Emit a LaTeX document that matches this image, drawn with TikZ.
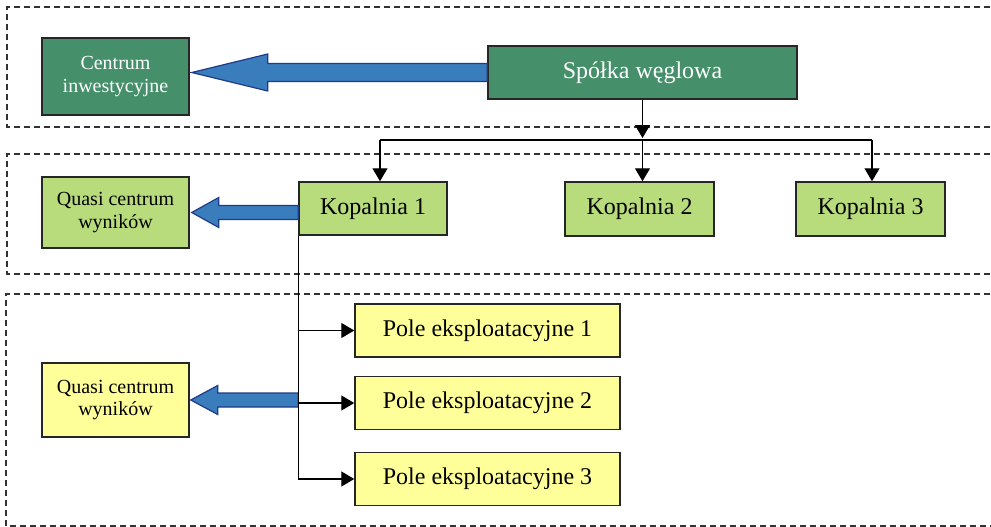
\documentclass[tikz,border=0pt]{standalone}
\usepackage{fontspec}
\setmainfont{Liberation Serif}
\usetikzlibrary{arrows.meta,calc}

\definecolor{darkgreen}{RGB}{69,143,106}
\definecolor{lightgreen}{RGB}{184,220,124}
\definecolor{paleyellow}{RGB}{255,255,153}
\definecolor{arrowblue}{RGB}{58,125,189}
\definecolor{arrowedge}{RGB}{31,58,136}
\definecolor{framegray}{RGB}{50,50,50}

\tikzset{
  box/.style={draw=black!85, line width=1.5pt, inner sep=0pt, align=center,
              font=\fontsize{24}{26}\selectfont},
  topbox/.style={box, fill=darkgreen, text=white},
  minebox/.style={box, fill=lightgreen},
  fieldbox/.style={box, fill=paleyellow},
  smalltext/.style={font=\fontsize{20}{22.5}\selectfont},
  frame/.style={draw=framegray, line width=1.2pt, dash pattern=on 6pt off 4pt},
  link/.style={line width=1.4pt, -{Triangle[length=13pt,width=15pt]}},
  plainlink/.style={line width=1.4pt},
  fatarrow/.style={fill=arrowblue, draw=arrowedge, line width=1.2pt, line join=miter},
}

\begin{document}
\begin{tikzpicture}[x=1pt,y=1pt]
  \clip (0,0) rectangle (991,-527);
  \fill[white] (0,0) rectangle (991,-527);

  % level frames, open to the right
  \draw[frame] (1000,-7) -- (7,-7) -- (7,-127) -- (1000,-127);
  \draw[frame] (1000,-154) -- (7,-154) -- (7,-274) -- (1000,-274);
  \draw[frame] (1000,-294) -- (6,-294) -- (6,-526) -- (1000,-526);

  % company level
  \node[topbox, smalltext, minimum width=147pt, minimum height=77pt] (centrum) at (115.5,-76.5) {Centrum\\inwestycyjne};
  \node[topbox, minimum width=309pt, minimum height=53pt] (spolka) at (642.5,-72.5) {Spółka węglowa};

  % mine level
  \node[minebox, smalltext, minimum width=147pt, minimum height=71pt] (quasiA) at (115.5,-212.5) {Quasi centrum\\wyników};
  \node[minebox, minimum width=148pt, minimum height=53pt] (kop1) at (373,-208.5) {Kopalnia 1};
  \node[minebox, minimum width=149pt, minimum height=54pt] (kop2) at (639.5,-209) {Kopalnia 2};
  \node[minebox, minimum width=149pt, minimum height=54pt] (kop3) at (870.5,-209) {Kopalnia 3};

  % field level
  \node[fieldbox, smalltext, minimum width=147pt, minimum height=74pt] (quasiB) at (115.5,-400) {Quasi centrum\\wyników};
  \node[fieldbox, minimum width=265pt, minimum height=53pt] (pole1) at (487.5,-330.5) {Pole eksploatacyjne 1};
  \node[fieldbox, minimum width=265pt, minimum height=53pt] (pole2) at (487.5,-403) {Pole eksploatacyjne 2};
  \node[fieldbox, minimum width=265pt, minimum height=53pt] (pole3) at (487.5,-479) {Pole eksploatacyjne 3};

  % wide arrows towards the result centres
  \draw[fatarrow] let \p1=(spolka.west), \p2=(centrum.east) in
    (\x1,\y1+9) -- (\x2+78,\y1+9) -- (\x2+78,\y1+18.5) -- (\x2+2,\y1)
    -- (\x2+78,\y1-18.5) -- (\x2+78,\y1-9) -- (\x1,\y1-9) -- cycle;
  \draw[fatarrow] let \p1=(kop1.west), \p2=(quasiA.east) in
    (\x1,\y2+7) -- (\x2+29,\y2+7) -- (\x2+29,\y2+15) -- (\x2+2,\y2)
    -- (\x2+29,\y2-15) -- (\x2+29,\y2-7) -- (\x1,\y2-7) -- cycle;
  \draw[fatarrow] let \p1=(kop1.south west), \p2=(quasiB.east) in
    (\x1,\y2+7) -- (\x2+28,\y2+7) -- (\x2+28,\y2+14.5) -- (\x2+1,\y2)
    -- (\x2+28,\y2-14.5) -- (\x2+28,\y2-7) -- (\x1,\y2-7) -- cycle;

  % company to mines
  \coordinate (busL) at (380,-140);
  \coordinate (busR) at (872,-140);
  \coordinate (busM) at (spolka.south |- busL);
  \draw[link] (spolka.south) -- ($(busM)+(0,2)$);
  \draw[plainlink] (busL) -- (busR);
  \draw[link] (busL) -- (busL |- kop1.north);
  \draw[link] (busM) -- (busM |- kop2.north);
  \draw[link] (busR) -- (busR |- kop3.north);

  % mine to its fields
  \draw[plainlink] (kop1.south west) -- (kop1.south west |- pole3.west);
  \draw[link] (kop1.south west |- pole1.west) -- (pole1.west);
  \draw[link] (kop1.south west |- pole2.west) -- (pole2.west);
  \draw[link] (kop1.south west |- pole3.west) -- (pole3.west);
\end{tikzpicture}
\end{document}
